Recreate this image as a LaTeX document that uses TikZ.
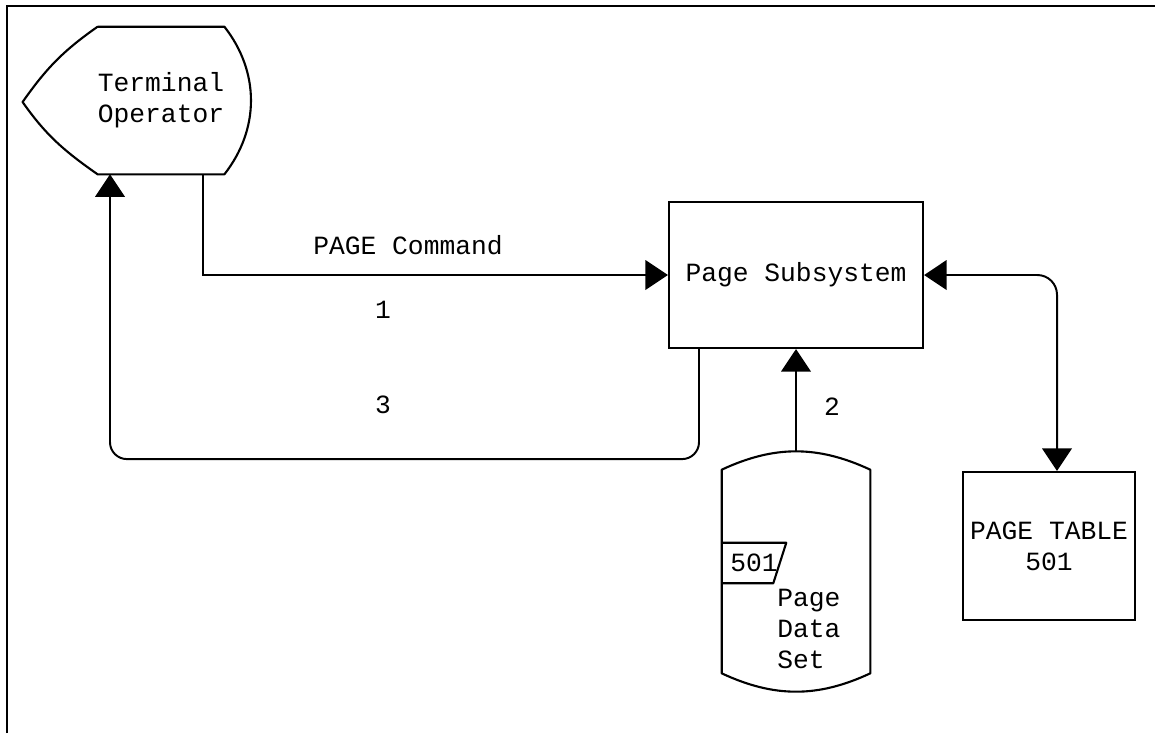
\documentclass[tikz,border=0pt]{standalone}
\usepackage{fontspec}
\setmainfont{Liberation Mono}
\usepackage{tikz}
\usetikzlibrary{calc}
\usetikzlibrary{arrows.meta,positioning}
\newcommand{\NameTable}{501}

\begin{document}
\begin{tikzpicture}[x=0.025cm,y=0.025cm,>={Triangle[length=16pt,width=21pt]}
        ,font=\fontsize{18.7}{22}\selectfont
        ,box/.style = {draw=black,line width=1.5pt,rectangle,inner sep=0pt}
        ,shape box/.style = {rectangle,inner sep=0pt}
        ,outline/.style = {line width=1.5pt,line join=round}
        ,flow/.style = {line width=1.4pt}
        ,legend/.style = {inner sep=0pt}
      ]
      \useasboundingbox (0,0) rectangle (1155,-733);
      \draw[line width=1.1pt] (7,-733) -- (7,-6) -- (1155,-6);

      % terminal
      \node(term)[shape box,minimum width=3.05cm,minimum height=3.675cm,align=center] at (161,-100.5) {Terminal\\Operator};
      \coordinate (termtip) at ($(term.west)+(-75,-1.5)$);
      \draw[outline] (term.north west) -- (term.north east) to[out=-52,in=52] (term.south east)
        -- (term.south west) to[out=145,in=-55] (termtip) to[out=55,in=215] (term.north west);

      \node(sub)[box,minimum width=6.35cm,minimum height=3.65cm] at (796,-275) {Page Subsystem};

      % data set
      \node(pds)[shape box,minimum width=3.7cm,minimum height=5.075cm] at (796,-571.5) {};
      \draw[outline] (pds.north west) to[bend left=25] (pds.north east) -- (pds.south east)
        to[bend left=25] (pds.south west) -- cycle;
      \coordinate (pdstop) at ($(pds.north)+(0,18)$);
      \node(tab)[shape box,minimum width=1.6cm,minimum height=1cm,anchor=west] at ($(pds.west)+(0,8.5)$) {\NameTable};
      \draw[outline] (tab.north west) -- (tab.north east) -- ($(tab.south east)+(-13,0)$) -- (tab.south west);
      \node(pdstext)[legend,align=left,anchor=west] at (777,-629) {Page\\Data\\Set};

      \node(ptab)[box,minimum width=4.3cm,minimum height=3.7cm,align=center] at (1049,-546) {PAGE TABLE\\\NameTable};

      \node(lblcmd)[legend] at (408,-245) {PAGE Command};
      \node(lblone)[legend] at (383,-310) {1};
      \node(lblthree)[legend] at (383,-405) {3};
      \node(lbltwo)[legend] at (832,-407) {2};

      \draw[->,flow] ($(term.south)+(42,0)$) |- (sub.west);
      \draw[->,flow,rounded corners=12pt] ($(sub.south)+(-97,0)$) -- ++(0,-110) -| ($(term.south)+(-51,0)$);
      \draw[->,flow] (pdstop) -- (sub.south);
      \draw[<->,flow,rounded corners=14pt] (sub.east) -| ($(ptab.north)+(8,0)$);
    \end{tikzpicture}
\end{document}
